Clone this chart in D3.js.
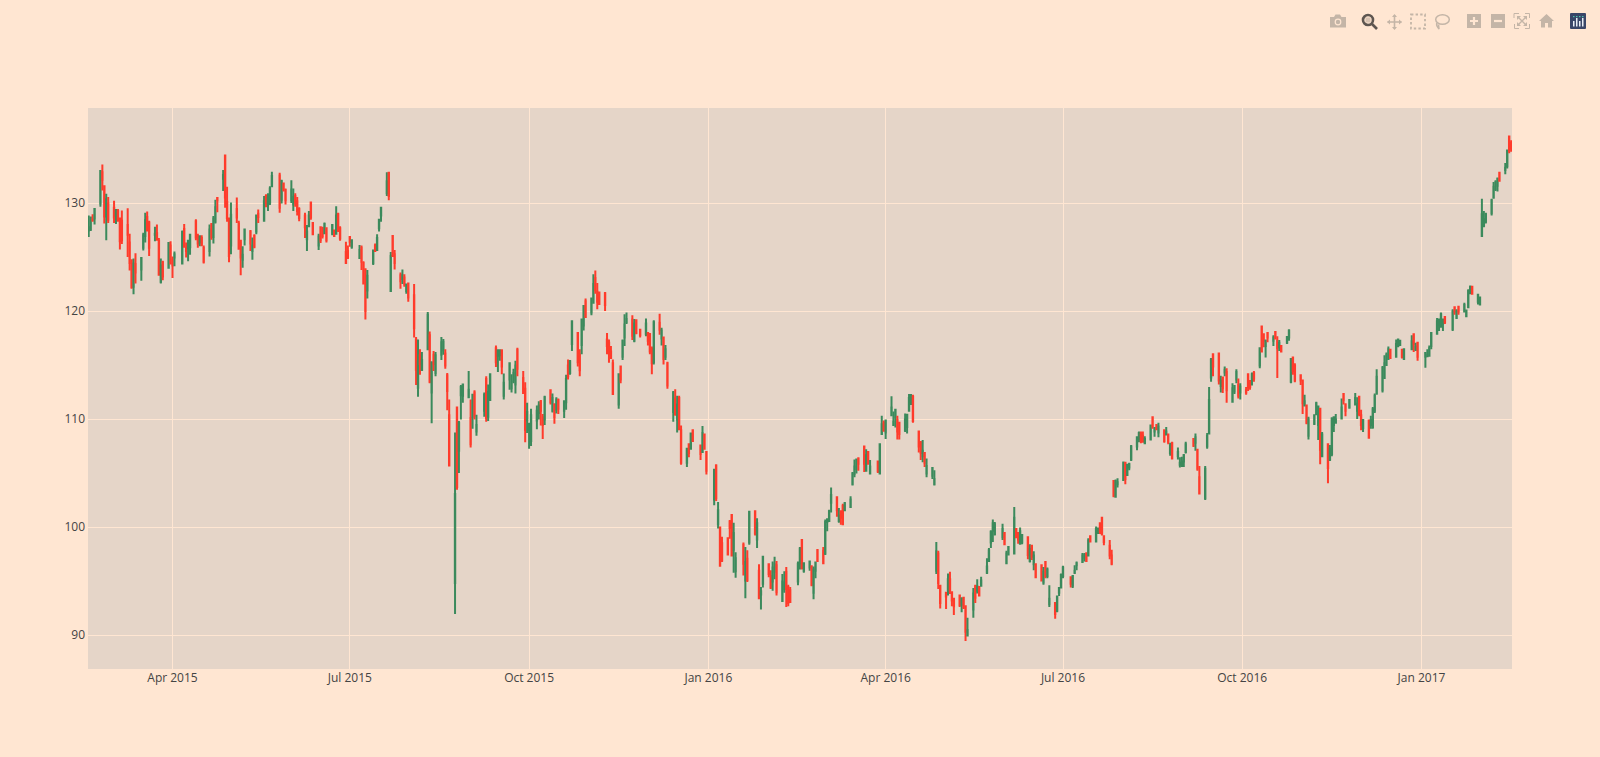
<!DOCTYPE html>
<html><head><meta charset="utf-8">
<script src="https://cdnjs.cloudflare.com/ajax/libs/d3/7.8.5/d3.min.js"></script>
<style>html,body{margin:0;padding:0;background:#FFE6D2;overflow:hidden}</style>
</head><body><div id="chart"></div>
<script>
const dates=[
"2015-02-17","2015-02-18","2015-02-19","2015-02-20","2015-02-23","2015-02-24","2015-02-25","2015-02-26","2015-02-27",
"2015-03-02","2015-03-03","2015-03-04","2015-03-05","2015-03-06","2015-03-09","2015-03-10","2015-03-11","2015-03-12","2015-03-13","2015-03-16","2015-03-17","2015-03-18","2015-03-19","2015-03-20","2015-03-23","2015-03-24","2015-03-25","2015-03-26","2015-03-27","2015-03-30","2015-03-31",
"2015-04-01","2015-04-02","2015-04-06","2015-04-07","2015-04-08","2015-04-09","2015-04-10","2015-04-13","2015-04-14","2015-04-15","2015-04-16","2015-04-17","2015-04-20","2015-04-21","2015-04-22","2015-04-23","2015-04-24","2015-04-27","2015-04-28","2015-04-29","2015-04-30",
"2015-05-01","2015-05-04","2015-05-05","2015-05-06","2015-05-07","2015-05-08","2015-05-11","2015-05-12","2015-05-13","2015-05-14","2015-05-15","2015-05-18","2015-05-19","2015-05-20","2015-05-21","2015-05-22","2015-05-26","2015-05-27","2015-05-28","2015-05-29",
"2015-06-01","2015-06-02","2015-06-03","2015-06-04","2015-06-05","2015-06-08","2015-06-09","2015-06-10","2015-06-11","2015-06-12","2015-06-15","2015-06-16","2015-06-17","2015-06-18","2015-06-19","2015-06-22","2015-06-23","2015-06-24","2015-06-25","2015-06-26","2015-06-29","2015-06-30",
"2015-07-01","2015-07-02","2015-07-06","2015-07-07","2015-07-08","2015-07-09","2015-07-10","2015-07-13","2015-07-14","2015-07-15","2015-07-16","2015-07-17","2015-07-20","2015-07-21","2015-07-22","2015-07-23","2015-07-24","2015-07-27","2015-07-28","2015-07-29","2015-07-30","2015-07-31",
"2015-08-03","2015-08-04","2015-08-05","2015-08-06","2015-08-07","2015-08-10","2015-08-11","2015-08-12","2015-08-13","2015-08-14","2015-08-17","2015-08-18","2015-08-19","2015-08-20","2015-08-21","2015-08-24","2015-08-25","2015-08-26","2015-08-27","2015-08-28","2015-08-31",
"2015-09-01","2015-09-02","2015-09-03","2015-09-04","2015-09-08","2015-09-09","2015-09-10","2015-09-11","2015-09-14","2015-09-15","2015-09-16","2015-09-17","2015-09-18","2015-09-21","2015-09-22","2015-09-23","2015-09-24","2015-09-25","2015-09-28","2015-09-29","2015-09-30",
"2015-10-01","2015-10-02","2015-10-05","2015-10-06","2015-10-07","2015-10-08","2015-10-09","2015-10-12","2015-10-13","2015-10-14","2015-10-15","2015-10-16","2015-10-19","2015-10-20","2015-10-21","2015-10-22","2015-10-23","2015-10-26","2015-10-27","2015-10-28","2015-10-29","2015-10-30",
"2015-11-02","2015-11-03","2015-11-04","2015-11-05","2015-11-06","2015-11-09","2015-11-10","2015-11-11","2015-11-12","2015-11-13","2015-11-16","2015-11-17","2015-11-18","2015-11-19","2015-11-20","2015-11-23","2015-11-24","2015-11-25","2015-11-27","2015-11-30",
"2015-12-01","2015-12-02","2015-12-03","2015-12-04","2015-12-07","2015-12-08","2015-12-09","2015-12-10","2015-12-11","2015-12-14","2015-12-15","2015-12-16","2015-12-17","2015-12-18","2015-12-21","2015-12-22","2015-12-23","2015-12-24","2015-12-28","2015-12-29","2015-12-30","2015-12-31",
"2016-01-04","2016-01-05","2016-01-06","2016-01-07","2016-01-08","2016-01-11","2016-01-12","2016-01-13","2016-01-14","2016-01-15","2016-01-19","2016-01-20","2016-01-21","2016-01-22","2016-01-25","2016-01-26","2016-01-27","2016-01-28","2016-01-29",
"2016-02-01","2016-02-02","2016-02-03","2016-02-04","2016-02-05","2016-02-08","2016-02-09","2016-02-10","2016-02-11","2016-02-12","2016-02-16","2016-02-17","2016-02-18","2016-02-19","2016-02-22","2016-02-23","2016-02-24","2016-02-25","2016-02-26","2016-02-29",
"2016-03-01","2016-03-02","2016-03-03","2016-03-04","2016-03-07","2016-03-08","2016-03-09","2016-03-10","2016-03-11","2016-03-14","2016-03-15","2016-03-16","2016-03-17","2016-03-18","2016-03-21","2016-03-22","2016-03-23","2016-03-24","2016-03-28","2016-03-29","2016-03-30","2016-03-31",
"2016-04-01","2016-04-04","2016-04-05","2016-04-06","2016-04-07","2016-04-08","2016-04-11","2016-04-12","2016-04-13","2016-04-14","2016-04-15","2016-04-18","2016-04-19","2016-04-20","2016-04-21","2016-04-22","2016-04-25","2016-04-26","2016-04-27","2016-04-28","2016-04-29",
"2016-05-02","2016-05-03","2016-05-04","2016-05-05","2016-05-06","2016-05-09","2016-05-10","2016-05-11","2016-05-12","2016-05-13","2016-05-16","2016-05-17","2016-05-18","2016-05-19","2016-05-20","2016-05-23","2016-05-24","2016-05-25","2016-05-26","2016-05-27","2016-05-31",
"2016-06-01","2016-06-02","2016-06-03","2016-06-06","2016-06-07","2016-06-08","2016-06-09","2016-06-10","2016-06-13","2016-06-14","2016-06-15","2016-06-16","2016-06-17","2016-06-20","2016-06-21","2016-06-22","2016-06-23","2016-06-24","2016-06-27","2016-06-28","2016-06-29","2016-06-30",
"2016-07-01","2016-07-05","2016-07-06","2016-07-07","2016-07-08","2016-07-11","2016-07-12","2016-07-13","2016-07-14","2016-07-15","2016-07-18","2016-07-19","2016-07-20","2016-07-21","2016-07-22","2016-07-25","2016-07-26","2016-07-27","2016-07-28","2016-07-29",
"2016-08-01","2016-08-02","2016-08-03","2016-08-04","2016-08-05","2016-08-08","2016-08-09","2016-08-10","2016-08-11","2016-08-12","2016-08-15","2016-08-16","2016-08-17","2016-08-18","2016-08-19","2016-08-22","2016-08-23","2016-08-24","2016-08-25","2016-08-26","2016-08-29","2016-08-30","2016-08-31",
"2016-09-01","2016-09-02","2016-09-06","2016-09-07","2016-09-08","2016-09-09","2016-09-12","2016-09-13","2016-09-14","2016-09-15","2016-09-16","2016-09-19","2016-09-20","2016-09-21","2016-09-22","2016-09-23","2016-09-26","2016-09-27","2016-09-28","2016-09-29","2016-09-30",
"2016-10-03","2016-10-04","2016-10-05","2016-10-06","2016-10-07","2016-10-10","2016-10-11","2016-10-12","2016-10-13","2016-10-14","2016-10-17","2016-10-18","2016-10-19","2016-10-20","2016-10-21","2016-10-24","2016-10-25","2016-10-26","2016-10-27","2016-10-28","2016-10-31",
"2016-11-01","2016-11-02","2016-11-03","2016-11-04","2016-11-07","2016-11-08","2016-11-09","2016-11-10","2016-11-11","2016-11-14","2016-11-15","2016-11-16","2016-11-17","2016-11-18","2016-11-21","2016-11-22","2016-11-23","2016-11-25","2016-11-28","2016-11-29","2016-11-30",
"2016-12-01","2016-12-02","2016-12-05","2016-12-06","2016-12-07","2016-12-08","2016-12-09","2016-12-12","2016-12-13","2016-12-14","2016-12-15","2016-12-16","2016-12-19","2016-12-20","2016-12-21","2016-12-22","2016-12-23","2016-12-27","2016-12-28","2016-12-29","2016-12-30",
"2017-01-03","2017-01-04","2017-01-05","2017-01-06","2017-01-09","2017-01-10","2017-01-11","2017-01-12","2017-01-13","2017-01-17","2017-01-18","2017-01-19","2017-01-20","2017-01-23","2017-01-24","2017-01-25","2017-01-26","2017-01-27","2017-01-30","2017-01-31",
"2017-02-01","2017-02-02","2017-02-03","2017-02-06","2017-02-07","2017-02-08","2017-02-09","2017-02-10","2017-02-13","2017-02-14","2017-02-15","2017-02-16"];
const opens=[
127.5,127.6,128.5,128.6,130,132.9,131.6,128.8,130,
129.6,128.9,129.3,128.6,128.4,128,126.4,124.75,122.3,124.4,123.9,125.9,127,128.75,128.25,127.1,127.25,126.55,122.75,124.55,124.05,126.1,
124.8,125,124.45,127.65,125.85,125.85,125.95,128.35,127,126.4,126.8,125.9,125.6,128.1,126.9,128.3,130.5,132.3,134.45,130.15,128.6,
126.1,129.5,128.15,126.55,124.8,126.7,127.4,125.6,127,127.4,129.05,128.4,130.7,129.9,130.1,131.6,132.6,130.35,131.85,131.25,
130.3,129.9,130.7,130.2,129.5,128.9,126.7,127.9,130.1,128.2,126.1,127.8,127.7,127.25,127.7,127.2,127.5,127.2,129,127.7,125.5,125.6,
126.9,126,124.95,125.9,124.5,123.9,121.95,124.5,126.1,125.7,127.7,128.9,130.95,132.85,121.9,127,125.3,123.35,123,123.15,121.9,122.6,
121.5,117.4,112.95,115.95,114.6,116.5,117.8,112.5,116,114.3,116,116.4,116.1,114.1,110.4,94.85,111.1,107.1,112.25,112.2,112.05,
110.15,110.25,112.5,108.9,110.8,113.75,110.25,111.8,116.6,115.9,115.95,116.4,112.2,113.7,112.9,113.6,113.25,116.45,113.85,112.85,109.9,
109.05,108,109.9,110.6,111.7,110.2,110,112.7,110.8,111.4,110.9,111.8,110.8,111.6,115,114.3,117,118,116,116.9,118.7,120.95,
119.9,120.8,123.1,121.85,121.75,121.7,117.4,117.1,116.3,115.2,111.4,114.9,115.8,117.6,119,119.25,117.3,119.2,118.3,117.9,
118,117.9,116.55,115.3,118.95,117.5,117.6,115.8,115.2,110.7,111.95,110,112,109,106,107.7,107.3,109,107.6,107,108.6,107,
102.6,105.75,100.3,100,98.55,99,100.55,101.15,97.95,95.95,98.4,95.1,97.1,98.6,101.5,98.9,96,93.8,94.8,
96.6,95.5,95,95.9,96.5,93.2,94.3,95.9,94.5,94.2,95,96.7,98.85,96,96.3,96.4,93.95,96,97.9,97.85,
97.6,100.5,100.6,102.3,102.8,100.6,101.5,102,101.6,101.9,104,104.95,105.4,106.4,107.5,105.25,107,105,106.1,105,108.65,109.7,
108.8,110.4,109.5,110.2,109.95,109.7,109,109.3,110.8,111.6,112.1,108.9,107.9,106.6,106.9,105,104.8,104,96,97.6,94.6,
93.95,94.2,95.2,94,93.4,93.7,92.85,93.5,92.7,90,92.4,94.55,94.15,94.5,94.6,95.8,96.9,98.6,99.7,99.4,99.1,
99.5,96.7,97.5,97.6,99.85,99.5,98.5,98.6,99.1,96.9,98.3,96.6,96.6,96.5,94.9,96.8,95.5,92.9,93,92.3,93.95,94.45,
95.5,95.4,94.6,95.8,96.5,96.8,97.2,97.6,97.4,99.2,98.7,99.55,100.4,100.9,99.2,98.3,97.4,104.3,102.85,104,
104.4,106,104.85,105.55,106.3,107.5,108.2,108.7,108.5,107.8,108.15,110.2,108.9,109.5,108.8,109,108.6,108.6,106.9,107.8,106.6,105.8,105.7,
106.1,107,108.2,107.85,107.2,104.65,102.7,107.5,108.7,113.9,116.05,116.1,113.1,113.9,114.35,114.4,111.65,112.6,113.7,113.2,112.5,
112.7,114.2,113.4,113.7,114.3,115,118.6,117.9,116.8,118,117.3,118.1,117.3,116.7,116.8,117.1,117.6,113.5,115.75,115,114.1,
113.6,111.3,111.3,108.5,109.6,110.5,109.5,111,106.6,107.7,106.3,106.8,109.5,109.7,110.1,112.35,111.4,111.1,111.4,110.8,112.1,
110.4,109.2,109.9,109.5,109.3,110.8,112.4,112.7,113.85,115.05,115.6,116.45,115.8,116.8,116.9,116.45,115.6,116.5,117.9,116.45,117.1,
115.8,115.85,115.9,116.8,117.95,118.75,118.7,118.9,119.5,118.35,120.4,119.4,120.45,120,119.55,120.4,121.7,122.3,120.9,120.65,
127,127.95,128.3,129.1,130.55,131.35,131.65,132.85,133.1,133.45,136.2,135.6];
const highs=[
128.9,128.8,129,129.5,133,133.6,131.6,130.9,130.6,
130.25,129.5,129.5,128.7,129.35,129.55,127.2,124.8,124.9,125.4,124.95,127.3,129.15,129.25,128.4,127.85,128.05,126.8,124.9,124.7,126.4,126.5,
125.1,125.55,127.5,128.1,126.4,126.6,127.2,128.55,127.2,127.05,127.05,126.1,128.05,128.15,128.85,130.35,130.55,133.1,134.5,131.55,128.6,
130.1,130.55,128.4,126.65,126.05,127.6,127.55,126.85,127.15,128.9,129.45,130.7,130.85,130.95,131.6,132.95,132.85,132.2,131.9,131.4,
132.15,131.4,130.95,130.6,129.65,129.15,128,129.3,130.15,128.25,127.2,127.85,127.85,128.25,127.75,128.05,127.55,129.75,129.15,127.9,126.45,126.1,
126.9,126.65,126.15,126.1,124.65,124,123.85,125.7,126.3,127.15,128.5,129.6,132.9,132.85,125.5,127.05,125.7,123.6,123.9,123.45,122.6,122.65,
122.55,117.65,117.4,116.5,116.25,119.95,118.15,115.4,116.35,116.25,117.65,117.45,116.5,114.3,111.85,108.8,111.15,109.85,113.2,113.25,114.5,
111.85,112.35,112.7,110.45,112.5,114,113.25,114.2,116.85,116.5,116.5,116.5,114.25,115.3,114.2,114.7,115.45,116.65,114.5,113.45,111.55,
109.65,111,111.3,111.7,111.8,110.5,112.2,112.7,112.4,111.5,112.05,111.95,111.75,114.15,115.55,115.5,119.2,118.1,116.5,119.3,120.6,121.2,
121.3,123.45,123.8,122.65,121.8,121.8,118,117.4,116.8,115.55,114.2,115,117.4,119.75,119.9,119.65,119.3,119.2,118.35,119.35,
118,118,116.75,119.2,119.8,118.5,117.65,116.9,115.35,112.65,112.8,112.2,112.2,109.45,107.35,107.7,108.8,109,107.65,109.4,108.7,107,
105.35,105.85,102.35,100.1,99.15,99.05,100.7,101.2,100.45,97.7,98.6,98.2,97.9,101.5,101.55,100.85,96.6,94.5,97.35,
96.7,96.05,96.85,97.3,96.9,95.7,95.95,96.35,94.7,94.5,96.85,98.2,98.9,96.75,96.9,96.5,96.4,96.8,98,98.2,
100.75,100.85,101.65,103.7,102.85,101.8,101.6,102.2,102.35,102.9,105.15,106.3,106.4,106.5,107.6,107.25,107.05,106.25,106.15,107.8,110.35,109.9,
109.95,112.15,110.75,110.95,110.35,109.75,110.55,110.5,112.35,112.35,112.3,108.95,108,108.1,106.9,106.4,105.6,105.3,98.65,97.85,94.65,
94.05,95.75,95.9,94.05,93.45,93.75,93.55,93.55,92.8,91.65,94.4,94.7,95.2,94.55,95.45,97.15,98.1,99.75,100.75,100.5,100.35,
99.55,97.85,98.25,101.9,99.9,99.55,100,99.35,99.15,98.45,98.4,97.8,96.65,96.6,96.35,96.85,96.3,94.65,93.1,93.65,94.5,95.75,
96.45,95.45,95.6,96.5,96.85,97.65,97.65,97.7,99,99.25,100.1,100,100.45,101,99.25,98.85,97.95,104.35,104.45,104.55,
106.1,106.05,105.9,106,107.65,108.4,108.9,108.9,108.9,108.45,109.5,110.2,109.3,109.55,109.7,109.05,109.3,108.7,107.85,107.95,107.4,106.5,106.55,
106.8,107.95,108.25,108.7,107.25,105.7,105.7,108.75,113,115.7,116.1,116.15,114.05,113.95,114.9,114.75,113.35,113.2,114.65,113.8,113.35,
113,114.25,113.65,114.35,114.5,116.65,118.65,117.95,117.4,118.1,117.8,118.15,117.7,117.35,116.85,117.7,118.35,115.65,115.8,115.2,114.2,
113.7,112.3,111.4,110.25,110.45,111.65,111.3,111.05,108.85,107.8,107.65,110.2,110.25,110.5,111.95,112.4,111.5,111.85,112.45,112.05,112.15,
110.9,110.05,110,110.35,111.15,112.4,114.65,114.95,115.95,116.2,116.75,116.5,117.4,117.45,117.35,116.5,116.55,117.8,117.95,117.1,117.15,
116.25,116.5,116.85,118.1,119.4,119.3,119.9,119.3,119.55,120.2,120.45,120.2,120.45,120.8,120.15,122.05,122.4,122.35,121.6,121.35,
130.45,129.3,129.15,130.45,132,132.15,132.4,132.9,133.75,135,136.25,135.85];
const lows=[
126.9,127.45,128.3,128.05,129.7,131.2,128.15,126.6,128.2,
128.2,128.1,128.3,125.75,126.25,125.05,123.8,122.1,121.6,122.6,122.85,125.65,126.4,127.4,125.15,126.5,126.55,123.4,122.6,122.9,124,124.35,
123.1,124.2,124.35,126,125,124.65,125.25,126.6,125.9,126.05,126.05,124.45,125.1,126.65,126.3,128.15,129.2,131.15,129.6,128.3,124.55,
125.3,128.2,125.75,123.35,124.05,126.1,125.6,124.8,125.85,127.15,128.2,128.3,129.65,129.3,129.85,131.5,129.15,130,131.1,129.9,
130.05,129.3,129.7,128.9,128.35,126.8,125.6,127.85,128.5,127.05,125.7,126.35,126.75,127.2,126.4,127.05,126.9,127.15,127.35,126.55,124.45,124.85,
126,125.8,124.85,123.85,122.55,119.25,121.2,124.3,125.6,125.6,127.4,128.3,130.7,130.3,121.9,125.05,123.9,122.1,122.55,122.3,121.65,120.9,
117.6,113.2,112.1,114.15,114.5,116.5,113.35,109.65,114.5,114,115.5,116,114.7,110.85,105.7,92,103.5,105.05,110,111.55,112,
107.4,109.15,110,108.5,110.25,109.8,109.85,111.75,114.85,114.4,115.45,114.2,111.85,112.75,112.5,113.35,112.4,114,112.4,107.9,108.75,
107.3,107.55,109.1,110,109.45,108.2,109.5,111.4,110.65,109.6,110.55,110.5,110.15,110.9,113.7,114.15,116.35,114.9,114,116.05,118.25,119.45,
119.65,120.75,121.65,120.2,120.6,120.05,116.05,115.25,115.6,112.3,111,113.35,115.5,116.8,118.85,117.35,117.15,117.9,117.6,117.7,
116.85,116.05,114.2,115.1,117.85,116.85,115.1,115.5,112.85,109.8,110.35,108.8,109,105.8,105.6,106.5,107.2,108,106.25,106.9,107.2,104.9,
102.05,102.45,99.9,96.4,96.8,97.4,98.95,97.35,95.8,95.35,95.55,93.45,94.95,98.4,99.25,98.1,93.4,92.4,94.45,
95.4,94.3,94.15,95.2,93.7,93.1,93.95,92.65,92.7,93,94.65,96.1,96.1,95.8,96,94.55,93.35,95.3,96.85,96.65,
97.45,99.65,100.5,101.4,101,100.45,100.25,100.2,101.55,101.8,103.9,104.65,105,105.25,105.15,105.2,105.85,104.95,105.05,104.9,108.65,108.9,
108.2,110.3,109.4,109.25,108.15,108.15,108.85,108.7,110.8,111.35,109.7,106.95,106.25,106.05,105.6,104.65,104.5,103.9,95.7,94.3,92.5,
92.45,93.7,93.85,92.7,91.9,92.65,92.15,92.45,89.5,90,91.65,93,93.9,93.6,94.55,95.7,96.85,98.1,98.65,99.25,98.85,
98.35,96.6,97.45,97.6,99,98.5,98.45,98.45,97.05,96.75,97,96.05,95.3,95,94.7,95.3,95.3,92.65,91.55,92.15,93.65,94.4,
95.3,94.45,94.4,95.7,96.05,96.75,96.85,96.8,97.35,98.6,98.65,99.4,99.4,99.25,98.35,97.05,96.5,102.8,102.85,103.7,
104.4,104,104.8,105.3,106.15,107.15,107.9,107.8,107.9,107.8,108.1,109.15,108.4,109.05,108.35,107.85,108.6,107.7,106.65,106.3,106.3,105.55,105.6,
105.6,106.85,107.45,107.1,105.25,103.1,102.55,107.3,108.65,113.5,114,113.25,112.5,112.45,114,111.55,111.55,112.35,113.35,111.95,111.85,
112.3,112.65,112.75,113.15,113.5,114.75,116.25,116.7,115.75,117.15,116.8,117.4,113.85,116.35,116.25,117,117.3,113.35,114.15,113.45,113.2,
110.5,111.25,109.55,108.15,109.5,110.4,108.1,105.85,106.55,104.1,106.15,106.6,108.85,109.65,110.05,111.4,110.3,111,111.3,110.05,110.3,
109,108.85,108.25,109.15,109.15,110.6,112.3,112.5,113.8,115,115.55,115.65,115.75,116.7,116.8,115.65,115.55,116.45,116.25,116.35,115.45,
114.8,115.8,115.8,116.5,117.9,118.2,118.5,118.2,118.85,118.2,119.7,119.4,119.7,119.9,119.5,120.3,121.6,121.6,120.65,120.6,
127,127.8,128.15,128.9,130.45,131.15,131.1,132.05,132.7,133.25,134.65,134.8];
const closes=[
127.8,128.7,128.45,129.5,133,132.2,128.8,130.4,128.5,
128.7,129.4,128.5,126.5,126.6,127.1,124.5,122.25,124.45,123.6,124.95,127.05,128.45,127.5,125.9,127.2,126.7,123.4,124.25,123.25,126.35,124.45,
124.25,125.3,127.35,126,125.6,126.55,127.1,126.85,126.3,126.95,126.2,124.6,127.6,126.9,128.6,129.65,130.3,132.65,130.55,128.65,125.15,
128.95,128.7,125.8,125,125.25,127.6,126.3,126.1,126,128.9,128.75,130.2,130.05,130.5,131.4,132.55,129.6,132.05,131.3,130.3,
131.3,130.6,130.1,129.3,128.65,127.8,127.4,128.9,128.7,127.15,126.95,126.6,127,128.1,126.6,128,127,128.9,127.5,126.75,124.5,125,
126.45,126.6,125.7,124.6,122.6,120.05,123.3,125.65,125.6,126.8,128.5,129.6,132.05,130.7,125.15,125.15,124.5,122.8,123.35,122.5,122.5,121.3,
118.45,114.6,115.4,115.15,115.5,119.7,113.5,115.25,115.15,115.95,117.15,117.2,115,112.65,105.75,103.1,103.75,109.7,113,113.25,112.75,
107.7,112.3,110.35,109.5,112.3,110.15,112.55,114.2,115.3,116.4,116.4,114.9,113.4,115.2,113.5,114.3,115,114.7,112.45,109.05,110.7,
109.6,110.4,110.8,111.3,110.8,109.5,112.05,111.6,112,110.2,111.85,111,111.7,113.75,114,115.4,119.1,115.3,114.55,119.25,120.5,119.5,
121.2,122.55,122,120.9,120.7,120.6,116.8,116.1,115.7,112.35,114.2,113.7,117.3,118.8,119.3,117.75,118.9,118,117.8,118.9,
117.3,116.3,115.2,119,118.3,118.25,115.6,116.5,113.15,112.5,110.5,111.4,109.1,106,107.3,106.9,108.7,108,106.8,108.75,107.3,105.25,
105.35,102.7,101.6,96.45,96.95,97.5,99.95,97.4,99.5,97.15,96.65,96.8,95.15,101.45,99.45,100.4,93.45,94.1,97.3,
95.7,94.45,96.3,96.6,94,95,94.9,94.3,93,93.1,96.65,98.05,96.25,96.7,96.85,94.7,96.1,96.75,96.9,96.7,
100.5,100.75,101.5,103,101.6,101.1,100.9,100.3,102.25,102.6,105,105.65,106.3,105.9,105.9,106.7,105.9,105.65,105.2,107.7,109.55,108.95,
109.9,111.1,109.8,110.9,108.9,108.65,110,110.45,112,112.1,109.85,107.5,106.9,107.1,105.95,105.7,105.5,104.5,97.8,94.85,93,
93.6,95.2,94.2,93.25,92.7,92.8,93.4,92.6,90.35,90.5,93.9,93.5,94.55,93.7,95.1,96.4,97.9,99.6,100.4,100.3,99.85,
98.45,97.6,98.2,100.9,99.1,98.9,99.65,99.3,97.45,98,97.3,97.4,95.4,95.1,95.9,95.5,96.1,93.4,92,93.6,94.4,95.6,
96.3,94.8,95.5,96,96.7,97.4,97.45,96.9,98.8,98.7,99.85,99.9,99.6,99.4,98.65,97.4,96.65,102.95,104.3,104.2,
106,104.5,105.8,105.85,107.5,108.35,108.75,108,107.95,108.2,109.45,109.4,109.2,109.1,109.35,108,108.9,107.95,107.6,106.4,107,106,106.1,
106.7,107.7,107.6,108.35,105.45,103.15,105.45,108.5,111.8,115.55,114.9,113.6,113.6,112.9,114.6,112.7,112.9,113.1,114.4,112.2,113.05,
112.5,113,113,114.2,113.8,116.6,116.3,117.3,117.3,117.6,117.6,117.5,116.6,117.1,116.3,117.65,118.25,115.6,114.5,113.6,113.6,
111.5,111.7,109.7,110,110.4,111.5,111.2,107.2,108.6,105.5,107.3,110.1,110.2,110,111.1,111.8,110.8,111.8,112,111.45,110.5,
109.5,109.95,108.3,109.95,110.95,112.2,113.95,114.8,115.2,116,116.5,115.7,117,117.4,117.3,115.8,116.5,117.25,117,116.75,115.8,
116.15,116,116.6,118,119.1,119.25,119.75,119.25,119,120,120,120,120,120.6,120.1,121.9,122.3,121.65,121.55,121.3,
129,128.55,129,130.3,131.55,132,132.3,132.1,133.3,134.9,134.9,135.1];
const yTicks=[90,100,110,120,130];
const xTickDates=["2015-04-01","2015-07-01","2015-10-01","2016-01-01","2016-04-01","2016-07-01","2016-10-01","2017-01-01"];
const xTickLabels=["Apr 2015","Jul 2015","Oct 2015","Jan 2016","Apr 2016","Jul 2016","Oct 2016","Jan 2017"];
const xRange=["2015-02-16T15:07:00Z","2017-02-16T10:48:00Z"];
const yRange=[86.898,138.843];

const W=1600,H=757,L=88,R=1512,T=108,B=669;
const PAPER="#FFE6D2",PLOT="#E5D5C8",GRID="#FFE6D2",UP="#3B8A5C",DOWN="#FF3B2B",TEXT="#444444";
const utc=s=>new Date(s.length>10?s:s+"T00:00:00Z");
const svg=d3.select("#chart").append("svg").attr("width",W).attr("height",H).style("display","block").style("background",PAPER);
const x=d3.scaleUtc().domain(xRange.map(utc)).range([L,R]);
const y=d3.scaleLinear().domain(yRange).range([B,T]);
svg.append("rect").attr("x",L).attr("y",T).attr("width",R-L).attr("height",B-T).attr("fill",PLOT);
svg.append("defs").append("clipPath").attr("id","plotclip").append("rect").attr("x",L).attr("y",T).attr("width",R-L).attr("height",B-T);

const labelStyle=g=>g.style("font-family",'"Open Sans",sans-serif').style("font-size","12px");
const xAxis=d3.axisBottom(x).offset(0).tickValues(xTickDates.map(utc)).tickFormat((d,i)=>xTickLabels[i]).tickSize(B-T).tickPadding(0);
const gx=svg.append("g").attr("transform",`translate(0,${T})`).call(xAxis);
gx.select(".domain").remove();
gx.selectAll("line").attr("stroke",GRID).attr("stroke-width",1).attr("x1",d=>Math.floor(x(d)+0.1)+0.5-x(d)).attr("x2",d=>Math.floor(x(d)+0.1)+0.5-x(d));
gx.selectAll("text").call(labelStyle).attr("dy",null).attr("y",B-T+9.5).attr("x",0).attr("text-anchor","middle").attr("dominant-baseline","middle").attr("fill",TEXT);
const yAxis=d3.axisLeft(y).offset(0).tickValues(yTicks).tickSize(R-L).tickPadding(3).tickFormat(d3.format("d"));
const gy=svg.append("g").attr("transform",`translate(${R},0)`).call(yAxis);
gy.select(".domain").remove();
gy.selectAll("line").attr("stroke",GRID).attr("stroke-width",1);
gy.selectAll("text").call(labelStyle).attr("dy",null).attr("y",0.5).attr("x",-(R-L)-3).attr("text-anchor","end").attr("dominant-baseline","middle").attr("fill",TEXT);

const candles=dates.map((d,i)=>({t:utc(d),o:opens[i],h:highs[i],l:lows[i],c:closes[i]}));
const bodyHalf=0.2;
const marks=svg.append("g").attr("clip-path","url(#plotclip)");
marks.selectAll("path").data(candles).join("path")
 .attr("d",d=>{const cx=x(d.t),a=y(Math.max(d.o,d.c)),b=y(Math.min(d.o,d.c));
   return `M${cx-bodyHalf},${a}H${cx+bodyHalf}V${b}H${cx-bodyHalf}ZM${cx},${a}V${y(d.h)}M${cx},${b}V${y(d.l)}`;})
 .attr("fill",d=>d.c>=d.o?UP:DOWN)
 .attr("stroke",d=>d.c>=d.o?UP:DOWN).attr("stroke-width",2);

/* plotly style mode bar */
const ICON="#C4B5A7",ACTIVE="#5E5650";
const bar=svg.append("g");
const ic=(x0,y0,draw)=>draw(bar.append("g").attr("transform",`translate(${x0},${y0})`));
ic(1330,14,g=>{g.append("path").attr("d","M0 3H4L5.5 .5H10L11.5 3H16V13.5H0Z").attr("fill",ICON);
  g.append("circle").attr("cx",8).attr("cy",8).attr("r",3.4).attr("fill",PAPER);g.append("circle").attr("cx",8).attr("cy",8).attr("r",2.2).attr("fill",ICON);});
ic(1362,14,g=>{g.append("circle").attr("cx",6).attr("cy",6).attr("r",5).attr("fill","none").attr("stroke",ACTIVE).attr("stroke-width",2.6);
  g.append("rect").attr("x",3.5).attr("y",3.5).attr("width",5).attr("height",5).attr("fill",ACTIVE).attr("opacity",.25);
  g.append("path").attr("d","M10 10L15 15").attr("stroke",ACTIVE).attr("stroke-width",2.6);});
ic(1387,14,g=>{g.append("path").attr("d","M7.5 1V15M.5 8H14.5").attr("stroke",ICON).attr("stroke-width",1.6);
  g.append("path").attr("d","M7.5 0L10 3H5ZM7.5 16L10 13H5ZM0 8L3 5.5V10.5ZM15 8L12 5.5V10.5Z").attr("fill",ICON);});
ic(1410,13.5,g=>{g.append("rect").attr("x",1).attr("y",1).attr("width",14).attr("height",14).attr("fill","none").attr("stroke",ICON).attr("stroke-width",1.8).attr("stroke-dasharray","2.4 2.2");});
ic(1434,13.5,g=>{g.append("ellipse").attr("cx",8.5).attr("cy",6).attr("rx",6.8).attr("ry",4.8).attr("fill","none").attr("stroke",ICON).attr("stroke-width",1.5);
  g.append("path").attr("d","M3 9.5C1.5 12 4 14 5 15.5L4.5 11").attr("fill","none").attr("stroke",ICON).attr("stroke-width",1.5);});
ic(1467,14,g=>{g.append("rect").attr("width",14).attr("height",14).attr("fill",ICON);g.append("path").attr("d","M7 3V11M3 7H11").attr("stroke",PAPER).attr("stroke-width",2.2);});
ic(1491,14,g=>{g.append("rect").attr("width",14).attr("height",14).attr("fill",ICON);g.append("path").attr("d","M3 7H11").attr("stroke",PAPER).attr("stroke-width",2.2);});
ic(1514,13,g=>{g.append("path").attr("d","M0 5V.5H5M11 .5H15.5V5M15.5 11V15.5H11M5 15.5H.5V11").attr("fill","none").attr("stroke",ICON).attr("stroke-width",1);
  g.append("path").attr("d","M4 4L12 12M12 4L4 12").attr("stroke",ICON).attr("stroke-width",1.4);
  g.append("path").attr("d","M3 3H7L3 7ZM13 3H9L13 7ZM3 13H7L3 9ZM13 13H9L13 9Z").attr("fill",ICON);});
ic(1539,14,g=>{g.append("path").attr("d","M7.5 0L15 7H13V13.5H9V9H6V13.5H2V7H0Z").attr("fill",ICON);});
ic(1570,13,g=>{g.append("rect").attr("width",16).attr("height",16).attr("rx",1).attr("fill","#3A4668");
  const bars=[[3,8],[6,5],[9,8],[12,5]];
  bars.forEach(b=>{g.append("rect").attr("x",b[0]).attr("y",b[1]).attr("width",1.5).attr("height",13.5-b[1]).attr("fill","#E8EDF5");g.append("rect").attr("x",b[0]).attr("y",3).attr("width",1.5).attr("height",1.2).attr("fill","#4FC3B0");});});
</script></body></html>
